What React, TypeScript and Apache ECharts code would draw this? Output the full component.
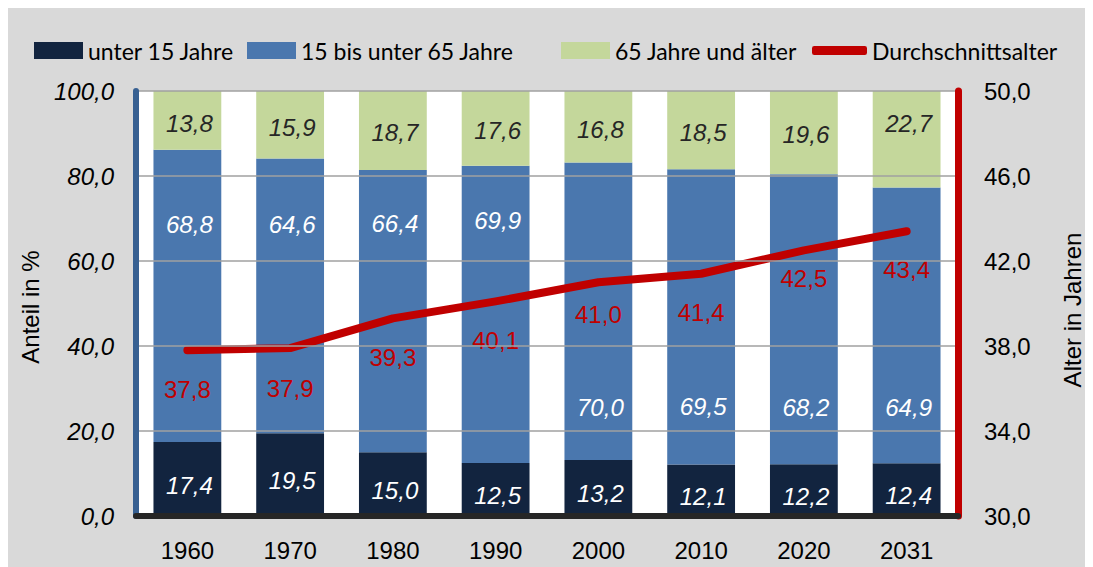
import React, { useEffect, useRef } from "react";
import * as echarts from "echarts";

const categories = ["1960", "1970", "1980", "1990", "2000", "2010", "2020", "2031"];
const under15 = [17.4, 19.5, 15.0, 12.5, 13.2, 12.1, 12.2, 12.4];
const age15to65 = [68.8, 64.6, 66.4, 69.9, 70.0, 69.5, 68.2, 64.9];
const age65plus = [13.8, 15.9, 18.7, 17.6, 16.8, 18.5, 19.6, 22.7];
const avgAge = [37.8, 37.9, 39.3, 40.1, 41.0, 41.4, 42.5, 43.4];

const seriesNames = ["unter 15 Jahre", "15 bis unter 65 Jahre", "65 Jahre und älter", "Durchschnittsalter"];

// label placement (style only, in pixels)
const blueLabelDy = [-71, -71, -88, -94, 96, 90, 88, 82];
const greenLabelDy = [3, 3, 2, 2, 3, 2, 2, -16];
const redLabelDist = [38, 39, 38, 38, 31, 38, 27, 37];

const fmt = (v: number) => v.toFixed(1).replace(".", ",");

const COLORS = {
  dark: "#12243f",
  blue: "#4a77ae",
  green: "#c4d79b",
  red: "#c00000",
  leftAxis: "#376092",
  bg: "#d9d9d9",
};

const FONT = "'Liberation Sans', Arial, sans-serif";
const LEGEND_FONT = "Lato, 'Open Sans', sans-serif";

function buildOption() {
  const barLabelBase = {
    show: true,
    position: "inside" as const,
    fontFamily: FONT,
    fontSize: 24,
    fontStyle: "italic" as const,
    formatter: (p: any) => fmt(p.value),
  };

  const legendCommon = {
    top: 26,
    itemWidth: 49,
    itemHeight: 17,
    textStyle: { fontFamily: LEGEND_FONT, fontSize: 23, color: "#000" },
    selectedMode: false,
  };

  return {
    animation: false,
    backgroundColor: COLORS.bg,
    legend: [
      { ...legendCommon, left: 21, data: [{ name: seriesNames[0], icon: "rect" }] },
      { ...legendCommon, left: 234, data: [{ name: seriesNames[1], icon: "rect" }] },
      { ...legendCommon, left: 548, data: [{ name: seriesNames[2], icon: "rect" }] },
      {
        ...legendCommon,
        left: 799,
        itemWidth: 55,
        itemHeight: 9,
        data: [{ name: seriesNames[3], icon: "roundRect", itemStyle: { color: COLORS.red } }],
      },
    ],
    grid: {
      left: 128,
      right: 135,
      top: 83,
      bottom: 51,
      show: true,
      backgroundColor: "#ffffff",
      borderWidth: 0,
    },
    graphic: [
      {
        type: "text",
        x: 22,
        y: 299,
        rotation: Math.PI / 2,
        style: {
          text: "Anteil in %",
          fontFamily: FONT,
          fontSize: 24,
          fill: "#000",
          align: "center",
          verticalAlign: "middle",
        },
      },
      {
        type: "text",
        x: 1064,
        y: 302,
        rotation: Math.PI / 2,
        style: {
          text: "Alter in Jahren",
          fontFamily: FONT,
          fontSize: 24,
          fill: "#000",
          align: "center",
          verticalAlign: "middle",
        },
      },
    ],
    xAxis: {
      type: "category",
      data: categories,
      z: 5,
      axisLine: { show: true, lineStyle: { color: "#262626", width: 6 } },
      axisTick: { show: false },
      axisLabel: { fontFamily: FONT, fontSize: 24, color: "#000", margin: 22 },
    },
    yAxis: [
      {
        type: "value",
        min: 0,
        max: 100,
        interval: 20,
        position: "left",
        z: 5,
        axisLine: { show: true, lineStyle: { color: COLORS.leftAxis, width: 6 } },
        axisTick: { show: false },
        splitLine: { show: true, lineStyle: { color: "#a0a0a0", width: 1.5 } },
        axisLabel: {
          fontFamily: FONT,
          fontSize: 24,
          fontStyle: "italic",
          color: "#000",
          margin: 22,
          formatter: (v: number) => fmt(v),
        },
      },
      {
        type: "value",
        min: 30,
        max: 50,
        interval: 4,
        position: "right",
        z: 5,
        axisLine: { show: true, lineStyle: { color: COLORS.red, width: 7 } },
        axisTick: { show: false },
        splitLine: { show: false },
        axisLabel: {
          fontFamily: FONT,
          fontSize: 24,
          color: "#000",
          margin: 26,
          formatter: (v: number) => fmt(v),
        },
      },
    ],
    series: [
      {
        name: seriesNames[0],
        type: "bar",
        stack: "total",
        barWidth: "66%",
        itemStyle: { color: COLORS.dark },
        label: { ...barLabelBase, color: "#ffffff", offset: [2, 6] },
        data: under15,
      },
      {
        name: seriesNames[1],
        type: "bar",
        stack: "total",
        barWidth: "66%",
        itemStyle: { color: COLORS.blue },
        label: { ...barLabelBase, color: "#ffffff" },
        data: age15to65.map((v, i) => ({ value: v, label: { offset: [2, blueLabelDy[i]] } })),
      },
      {
        name: seriesNames[2],
        type: "bar",
        stack: "total",
        barWidth: "66%",
        itemStyle: { color: COLORS.green },
        label: { ...barLabelBase, color: "#262626" },
        data: age65plus.map((v, i) => ({ value: v, label: { offset: [2, greenLabelDy[i]] } })),
      },
      {
        name: seriesNames[3],
        type: "line",
        yAxisIndex: 1,
        symbol: "circle",
        symbolSize: 2,
        showSymbol: true,
        z: 4,
        lineStyle: { color: COLORS.red, width: 8, cap: "round", join: "round" },
        itemStyle: { color: COLORS.red },
        label: {
          show: true,
          position: "bottom",
          verticalAlign: "middle",
          fontFamily: FONT,
          fontSize: 24,
          color: COLORS.red,
          formatter: (p: any) => fmt(p.value),
        },
        data: avgAge.map((v, i) => ({ value: v, label: { distance: redLabelDist[i] } })),
      },
    ],
  };
}

export default function App() {
  const ref = useRef<HTMLDivElement>(null);
  useEffect(() => {
    if (!ref.current) return;
    const chart = echarts.init(ref.current, null, { renderer: "svg" });
    chart.setOption(buildOption() as any);
    return () => chart.dispose();
  }, []);
  return <div ref={ref} style={{ width: 1085, height: 559, background: COLORS.bg }} />;
}
